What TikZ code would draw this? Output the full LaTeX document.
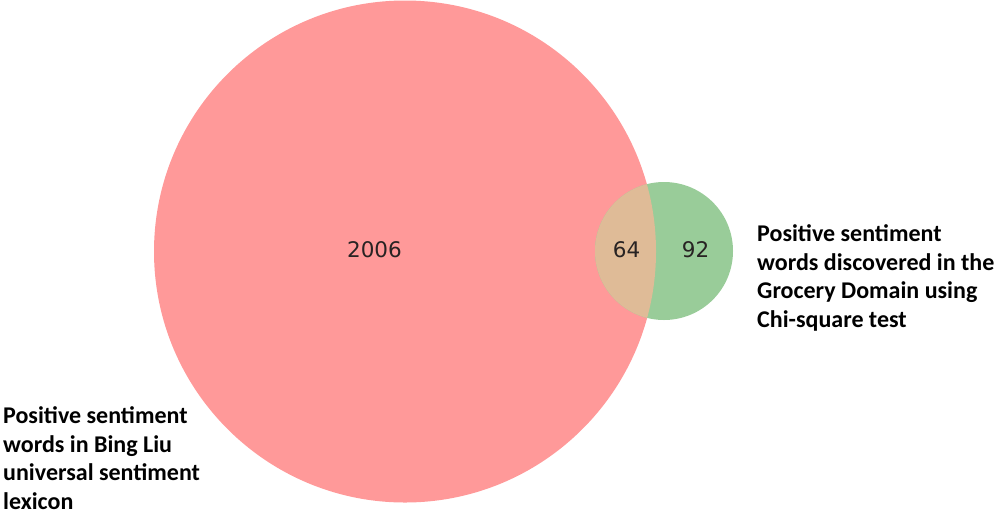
\documentclass[tikz,border=0pt]{standalone}
\usepackage{fontspec}
\setmainfont{Carlito}
\newfontfamily\numfont{DejaVu Sans}
\definecolor{setA}{RGB}{255,153,153}
\definecolor{setB}{RGB}{153,204,153}
\definecolor{setAB}{RGB}{223,187,151}
\definecolor{numcol}{RGB}{40,35,35}
\tikzset{
  numlabel/.style={font=\numfont\fontsize{21.5}{26}\selectfont, text=numcol, inner sep=0pt},
  setlabel/.style={font=\bfseries\fontsize{24}{28.5}\selectfont, align=left, inner sep=0pt, anchor=base west}
}
\begin{document}
\begin{tikzpicture}[x=1pt,y=-1pt]
\useasboundingbox (0,0) rectangle (995,515);
% big circle (A)
\fill[setA] (405,251.5) circle (251);
% small circle (B)
\fill[setB] (664,251) circle (69);
% overlap
\begin{scope}
  \clip (664,251) circle (69);
  \fill[setAB] (405,251.5) circle (251);
\end{scope}
\node[numlabel] (nA) at (374.5,250) {2006};
\node[numlabel] (nAB) at (626.5,250) {64};
\node[numlabel] (nB) at (695.5,250) {92};
\node[setlabel] (labB) at (757,327) {Positive sentiment\\words discovered in the\\Grocery Domain using\\Chi-square test};
\node[setlabel] (labA) at (3,509) {Positive sentiment\\words in Bing Liu\\universal sentiment\\lexicon};
\end{tikzpicture}
\end{document}
